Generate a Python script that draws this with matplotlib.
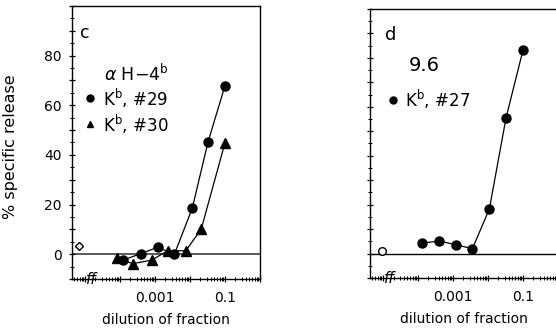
import numpy as np
import matplotlib
matplotlib.use("Agg")
import matplotlib.pyplot as plt
from matplotlib.ticker import MultipleLocator, LogLocator, FuncFormatter, NullFormatter

plt.rcParams['font.family'] = ['DejaVu Sans']

# panel c : alpha H-4b
c_x29 = [0.00012, 0.00039, 0.0012, 0.0036, 0.0117, 0.033, 0.1]
c_y29 = [-2.4, 0.2, 2.8, 0.0, 18.6, 45.3, 67.8]
c_x30 = [0.000081, 0.00023, 0.00081, 0.0023, 0.0076, 0.021, 0.1]
c_y30 = [-1.6, -3.8, -2.4, 1.4, 1.4, 10.1, 44.8]
c_ctrl = (0.0000068, 3.2)

# panel d : 9.6
d_x27 = [0.00013, 0.00041, 0.00123, 0.0036, 0.011, 0.033, 0.1]
d_y27 = [4.3, 5.1, 3.6, 2.0, 18.3, 55.6, 83.1]
d_ctrl = (0.0000091, 1.0)

xlabels = {0.001: "0.001", 0.1: "0.1"}
ylabels = [0, 20, 40, 60, 80]

fig = plt.figure(figsize=(5.56, 3.31), dpi=100)
ax1 = fig.add_axes([0.1295, 0.157, 0.338, 0.825])
ax2 = fig.add_axes([0.6655, 0.160, 0.338, 0.813])


def style(ax, show_y):
    ax.set_xscale("log")
    ax.set_xlim(10 ** -5.37, 1.0)
    ax.set_ylim(-10, 100)
    ax.axhline(0, color="0.35" if show_y else "black", lw=1.4 if show_y else 1.0, zorder=1)
    ax.xaxis.set_major_locator(LogLocator(base=10, numticks=12))
    ax.xaxis.set_minor_locator(LogLocator(base=10, subs=np.arange(2, 10), numticks=12))
    ax.xaxis.set_major_formatter(FuncFormatter(
        lambda v, p: next((t for k, t in xlabels.items() if abs(np.log10(v) - np.log10(k)) < 0.01), "")))
    ax.xaxis.set_minor_formatter(NullFormatter())
    ax.yaxis.set_major_locator(MultipleLocator(10))
    ax.yaxis.set_minor_locator(MultipleLocator(5))
    if show_y:
        ax.yaxis.set_major_formatter(FuncFormatter(
            lambda v, p: "%d" % v if int(round(v)) in ylabels else ""))
    else:
        ax.yaxis.set_major_formatter(NullFormatter())
    ax.tick_params(which="major", direction="inout", length=5, width=0.9, labelsize=10)
    ax.tick_params(which="minor", direction="inout", length=2.5, width=0.7)
    ax.tick_params(axis="x", pad=6)
    ax.tick_params(axis="y", pad=5)
    for s in ax.spines.values():
        s.set_linewidth(1.0)
    ax.text(0.105, 0.0, "ff", transform=ax.transAxes, fontsize=11, style="italic",
            ha="center", va="center", zorder=5)
    ax.set_xlabel("dilution of fraction", fontsize=10)


style(ax1, True)
style(ax2, False)
ax1.xaxis.set_label_coords(0.5, -0.125)
ax2.xaxis.set_label_coords(0.5, -0.128)

ax1.plot(c_x29, c_y29, "-o", color="black", lw=0.9, ms=6.5, zorder=3)
ax1.plot(c_x30, c_y30, "-^", color="black", lw=0.9, ms=6.5, zorder=3)
ax1.plot(*c_ctrl, "D", mfc="white", mec="black", ms=4.5, mew=1.0, zorder=3)
ax1.set_ylabel("% specific release", fontsize=11.5)
ax1.yaxis.set_label_coords(-0.285, 0.483)
ax1.text(0.045, 0.9, "c", transform=ax1.transAxes, fontsize=12.5, va="center")
ax1.text(0.17, 0.75, r"$\alpha$ H$-$4$^{\rm b}$", transform=ax1.transAxes, fontsize=12.5, va="center")
ax1.plot([0.096], [0.663], "o", color="black", ms=5, transform=ax1.transAxes)
ax1.text(0.165, 0.663, r"K$^{\rm b}$, #29", transform=ax1.transAxes, fontsize=12, va="center")
ax1.plot([0.096], [0.568], "^", color="black", ms=5, transform=ax1.transAxes)
ax1.text(0.165, 0.568, r"K$^{\rm b}$, #30", transform=ax1.transAxes, fontsize=12, va="center")

ax2.plot(d_x27, d_y27, "-o", color="black", lw=0.9, ms=6.5, zorder=3)
ax2.plot(*d_ctrl, "o", mfc="white", mec="black", ms=5.5, mew=1.0, zorder=3)
ax2.text(0.08, 0.903, "d", transform=ax2.transAxes, fontsize=13, va="center")
ax2.text(0.287, 0.788, "9.6", transform=ax2.transAxes, fontsize=14, va="center", ha="center")
ax2.plot([0.122], [0.662], "o", color="black", ms=5, transform=ax2.transAxes)
ax2.text(0.186, 0.662, r"K$^{\rm b}$, #27", transform=ax2.transAxes, fontsize=12, va="center")

fig.savefig("out.png", dpi=100)
